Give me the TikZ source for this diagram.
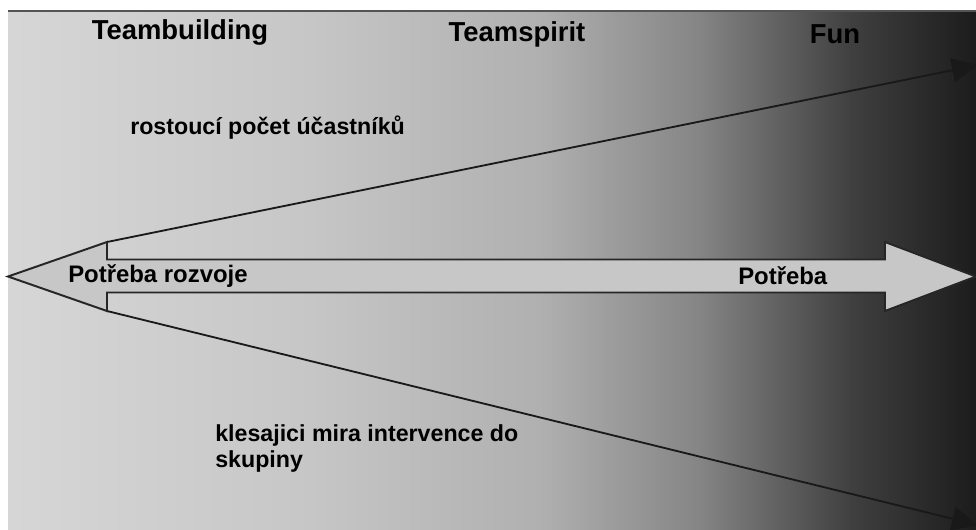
\documentclass[tikz,border=0pt]{standalone}
\usepackage{fontspec}
\setmainfont{Liberation Sans}
\usetikzlibrary{arrows.meta,positioning,backgrounds}
\definecolor{bgleft}{gray}{0.84}
\definecolor{bgmid}{gray}{0.78}
\definecolor{bgcent}{gray}{0.69}
\definecolor{bgdark}{gray}{0.52}
\definecolor{bgdeep}{gray}{0.25}
\definecolor{bgend}{gray}{0.11}
\definecolor{arrowfill}{gray}{0.78}
\definecolor{rulegray}{gray}{0.33}
\tikzset{
  >={Triangle[length=6.5mm,width=6mm]},
  % texte
  hdr/.style={inner sep=0pt,font=\fontsize{19.5}{23}\selectfont\bfseries},
  note/.style={inner sep=0pt,anchor=west,font=\fontsize{16.5}{18.5}\selectfont\bfseries},
  tag/.style={inner sep=0pt,anchor=west,font=\fontsize{17}{20}\selectfont\bfseries},
  % linien
  topline/.style={draw=rulegray,line width=2pt},
  bigarrow/.style={draw=black!85,fill=arrowfill,line width=1.4pt,line join=miter},
  trend/.style={->,draw=black!90,line width=1.3pt},
}
\begin{document}
\begin{tikzpicture}[x=0.025cm,y=-0.025cm]
  \useasboundingbox (0,0) rectangle (976,529);
  % hintergrund
  \shade[left color=bgleft,right color=bgmid] (8,12) rectangle (301,529);
  \shade[left color=bgmid,right color=bgcent] (300,12) rectangle (541,529);
  \shade[left color=bgcent,right color=bgdark] (540,12) rectangle (701,529);
  \shade[left color=bgdark,right color=bgdeep] (700,12) rectangle (851,529);
  \shade[left color=bgdeep,right color=bgend] (850,12) rectangle (976,529);
  \draw[topline] (8,11) -- (976,11);
  % trendlinien
  \coordinate (uptail) at (107,242);
  \coordinate (downtail) at (107,311);
  \coordinate (uphead) at (978,65);
  \coordinate (downhead) at (978,525);
  \draw[trend] (uptail) -- (uphead);
  \draw[trend] (downtail) -- (downhead);
  % doppelpfeil
  \draw[bigarrow] (8,276.5) -- (107,242) -- (107,259.5) -- (885,259.5) -- (885,242)
    -- (976,276.5) -- (885,311) -- (885,292.5) -- (107,292.5) -- (107,311) -- cycle;
  \node[hdr] (build) at (180,32) {Teambuilding};
  \node[hdr] (spirit) at (517,34) {Teamspirit};
  \node[hdr] (fun) at (835,34) {Fun};
  \node[note] (grow) at (130,128) {rostoucí počet účastníků};
  \node[tag] (needdev) at (68,276) {Potřeba rozvoje};
  \node[tag] (need) at (738,276) {Potřeba};
  \node[note,align=left] (fall) at (215,448) {klesajici mira intervence do\\skupiny};
\end{tikzpicture}
\end{document}
